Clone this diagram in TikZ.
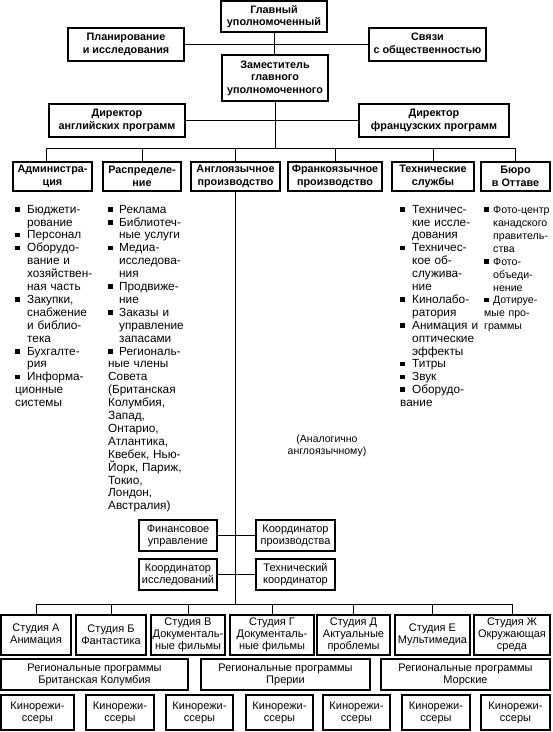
\documentclass[tikz,border=0pt]{standalone}
\usepackage{fontspec}
\setmainfont{Liberation Sans}
\newlength\myind
\newcommand\itm[1]{\par\hangindent=\myind\hangafter=1\noindent\makebox[\myind][l]{\raisebox{1.5pt}{\rule{4.8pt}{4.8pt}}}#1}
\newcommand\mybox[7][]{\node[box,#1,minimum width={(#5-#3)*1pt},minimum height={(#6-#4)*1pt}] (#2) at ({(#3+#5)/2},{(#4+#6)/2}) {#7};}
\begin{document}
\begin{tikzpicture}[x=1pt,y=-1pt,
 box/.style={draw,line width=1.1pt,inner sep=0pt,align=center,font=\fontsize{11}{12}\selectfont},
 hd/.style={font=\bfseries\fontsize{10.8}{12.5}\selectfont},
 con/.style={line width=1pt},
 lst/.style={anchor=north west,inner sep=0pt,align=left,text width=100pt,font=\fontsize{11.8}{12.9}\selectfont}]
\useasboundingbox (0,0) rectangle (553,732);
% top boxes
\mybox[hd]{chief}{221}{1}{327}{32}{Главный\\уполномоченный}
\mybox[hd]{plan}{68}{28}{184}{61}{Планирование\\и исследования}
\mybox[hd]{pr}{369}{28}{486}{61}{Связи\\с общественностью}
\mybox[hd]{deputy}{222}{55}{328}{101}{Заместитель\\главного\\уполномоченного}
\mybox[hd]{direng}{49}{104}{185}{137}{Директор\\английских программ}
\mybox[hd]{dirfr}{359}{104}{509}{137}{Директор\\французских программ}
% departments
\mybox[hd]{adm}{13}{162}{92}{191}{Администра-\\ция}
\mybox[hd]{dist}{103}{162}{181}{191}{Распределе-\\ние}
\mybox[hd]{eng}{191}{162}{280}{191}{Англоязычное\\производство}
\mybox[hd]{fr}{288}{162}{382}{191}{Франкоязычное\\производство}
\mybox[hd]{tech}{392}{162}{474}{191}{Технические\\службы}
\mybox[hd]{ott}{481}{162}{550}{191}{Бюро\\в Оттаве}
% coordinators
\mybox{fin}{139}{520}{217}{551}{Финансовое\\управление}
\mybox{cprod}{256}{520}{335}{551}{Координатор\\производства}
\mybox{cres}{139}{559}{217}{590}{Координатор\\исследований}
\mybox{ctech}{256}{559}{335}{590}{Технический\\координатор}
% studios
\mybox{stA}{1}{615}{71}{655}{Студия А\\Анимация}
\mybox{stB}{76}{615}{146}{655}{Студия Б\\Фантастика}
\mybox{stC}{151}{615}{225}{655}{Студия В\\Документаль-\\ные фильмы}
\mybox{stD}{230}{615}{314}{655}{Студия Г\\Документаль-\\ные фильмы}
\mybox{stE}{317}{615}{390}{655}{Студия Д\\Актуальные\\проблемы}
\mybox{stF}{395}{615}{470}{655}{Студия Е\\Мультимедиа}
\mybox{stG}{474}{615}{550}{655}{Студия Ж\\Окружающая\\среда}
% regional
\mybox{reg1}{1}{659}{188}{690}{Региональные программы\\Британская Колумбия}
\mybox{reg2}{201}{659}{370}{690}{Региональные программы\\Прерии}
\mybox{reg3}{381}{659}{550}{690}{Региональные программы\\Морские}
% directors of films
\mybox{k1}{1}{695}{74}{730}{Кинорежи-\\ссеры}
\mybox{k2}{86}{695}{154}{730}{Кинорежи-\\ссеры}
\mybox{k3}{166}{695}{233}{730}{Кинорежи-\\ссеры}
\mybox{k4}{246}{695}{313}{730}{Кинорежи-\\ссеры}
\mybox{k5}{323}{695}{390}{730}{Кинорежи-\\ссеры}
\mybox{k6}{402}{695}{470}{730}{Кинорежи-\\ссеры}
\mybox{k7}{481}{695}{550}{730}{Кинорежи-\\ссеры}
% connectors
\coordinate (bar) at (275,148);
\coordinate (bL) at (46,148);
\coordinate (bR) at (516,148);
\coordinate (sL) at (36,604);
\coordinate (sR) at (512,604);
\draw[con] (chief.south) -- (chief.south |- deputy.north);
\draw[con] (plan.east) -- (pr.west);
\draw[con] (deputy.south) -- (deputy.south |- bar);
\draw[con] (direng.east) -- (dirfr.west);
\draw[con] (bL) -- (bR);
\draw[con] (bL) -- (bL |- adm.north);
\foreach \n in {dist,eng,fr,tech,ott} \draw[con] (bL -| \n.north) -- (\n.north);
\draw[con] (eng.south) -- (eng.south |- sL);
\draw[con] (fin.east) -- (cprod.west);
\draw[con] (cres.east) -- (ctech.west);
\draw[con] (sL) -- (sR);
\foreach \n in {stA,stB,stC,stD,stE,stF,stG} \draw[con] (sL -| \n.north) -- (\n.north);
% lists
\node[lst] (admL) at (15,200) {\setlength\myind{12pt}%
\itm{Бюджети-\newline рование}\itm{Персонал}\itm{Оборудо-\newline вание и\newline хозяйствен-\newline ная часть}\itm{Закупки,\newline снабжение\newline и библио-\newline тека}\itm{Бухгалте-\newline рия}\itm{Информа-\newline ционные\newline системы}};
\node[lst] (distL) at (108,200) {\setlength\myind{11pt}%
\itm{Реклама}\itm{Библиотеч-\newline ные услуги}\itm{Медиа-\newline исследова-\newline ния}\itm{Продвиже-\newline ние}\itm{Заказы и\newline управление\newline запасами}\itm{Региональ-\newline ные члены\newline Совета\newline (Британская\newline Колумбия,\newline Запад,\newline Онтарио,\newline Атлантика,\newline Квебек, Нью-\newline Йорк, Париж,\newline Токио,\newline Лондон,\newline Австралия)}};
\node[lst] (techL) at (400,200) {\setlength\myind{12pt}%
\itm{Техничес-\newline кие иссле-\newline дования}\itm{Техничес-\newline кое об-\newline служива-\newline ние}\itm{Кинолабо-\newline ратория}\itm{Анимация и\newline оптические\newline эффекты}\itm{Титры}\itm{Звук}\itm{Оборудо-\newline вание}};
\node[lst,font=\fontsize{10.6}{12.9}\selectfont] (ottL) at (484,200.5) {\setlength\myind{9pt}%
\itm{Фото-центр\newline канадского\newline правитель-\newline ства}\itm{Фото-\newline объеди-\newline нение}\itm{Дотируе-\newline мые про-\newline граммы}};
\node[align=center,inner sep=0pt,font=\fontsize{10.5}{12}\selectfont] (analog) at (327,446) {(Аналогично\\англоязычному)};
\end{tikzpicture}
\end{document}
